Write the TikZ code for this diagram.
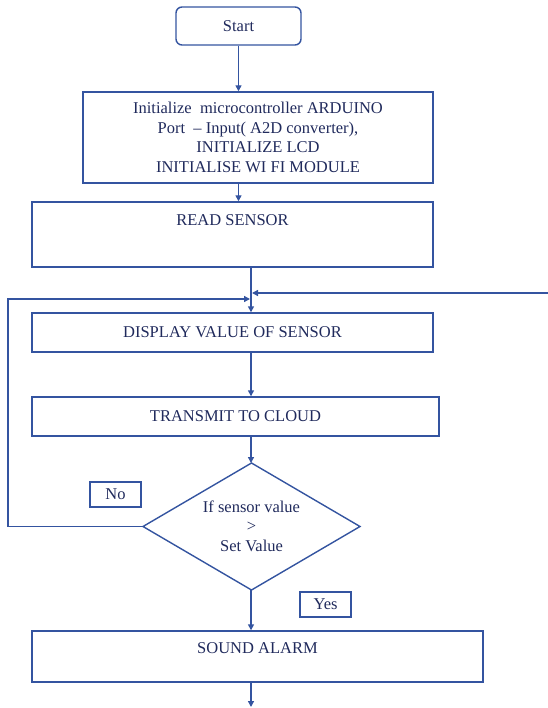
\documentclass[tikz,border=0pt]{standalone}
\usepackage{fontspec}
\setmainfont{Liberation Serif}
\usetikzlibrary{arrows.meta,shapes.geometric}
\definecolor{lineblue}{RGB}{52,84,160}
\definecolor{textblue}{RGB}{32,42,92}
\begin{document}
\begin{tikzpicture}[x=1pt,y=-1pt,
  every node/.style={text=textblue,font=\fontsize{16.5}{19.7}\selectfont},
  box/.style={draw=lineblue,line width=1.4pt,rectangle,inner sep=0pt},
  lbl/.style={inner sep=0pt},
  arr/.style={draw=lineblue,line width=1.4pt,-{Triangle[length=6pt,width=6pt]}},
  ln/.style={draw=lineblue,line width=1.4pt}]
\useasboundingbox (0,0) rectangle (547,708);
\node[box,rounded corners=6pt,minimum width=125pt,minimum height=38pt] (start) at (238.5,26) {Start};
\node[box,minimum width=350pt,minimum height=91pt,align=center] (init) at (258,137.5)
 {Initialize\ \ microcontroller ARDUINO\\Port\ \ – Input( A2D converter),\\INITIALIZE LCD\\INITIALISE WI FI MODULE};
\node[box,minimum width=401pt,minimum height=65pt] (read) at (232.5,234.5) {};
\node[lbl] (readt) at (232.5,220) {READ SENSOR};
\node[box,minimum width=401pt,minimum height=39pt] (disp) at (232.5,332.5) {DISPLAY VALUE OF SENSOR};
\node[box,minimum width=407pt,minimum height=39pt] (trans) at (235.5,416.5) {TRANSMIT TO CLOUD};
\node[draw=lineblue,line width=1.4pt,diamond,aspect=1.7,inner sep=0pt,outer sep=0pt,minimum width=217pt,minimum height=127pt,align=center] (dia) at (251.5,526.5)
 {If sensor value\\[-1pt]>\\[1pt]Set Value};
\node[box,minimum width=51pt,minimum height=25pt] (no) at (115.5,494.5) {No};
\node[box,minimum width=51pt,minimum height=25pt] (yes) at (325.5,604.5) {Yes};
\node[box,minimum width=451pt,minimum height=51pt] (alarm) at (257.5,656.5) {};
\node[lbl] (alarmt) at (257.5,648) {SOUND ALARM};
\coordinate (lx) at (8,0);
\coordinate (j1) at (251,299);
\coordinate (j2) at (251,293);
\coordinate (rt) at (548,293);
\coordinate (bot) at (251,707);
\draw[arr] (start.south) -- (init.north -| start.south);
\draw[arr] (init.south -| start.south) -- (read.north -| start.south);
\draw[arr] (read.south -| j1) -- (disp.north -| j1);
\draw[arr] (disp.south -| j1) -- (trans.north -| j1);
\draw[arr] (trans.south -| j1) -- (dia.north -| j1);
\draw[arr] (dia.south -| j1) -- (alarm.north -| j1);
\draw[arr] (alarm.south -| j1) -- (bot);
\draw[arr] (dia.west) -- (dia.west -| lx) -- (j1 -| lx) -- ([xshift=-1pt]j1);
\draw[arr] (rt) -- ([xshift=1pt]j2);
\end{tikzpicture}
\end{document}
